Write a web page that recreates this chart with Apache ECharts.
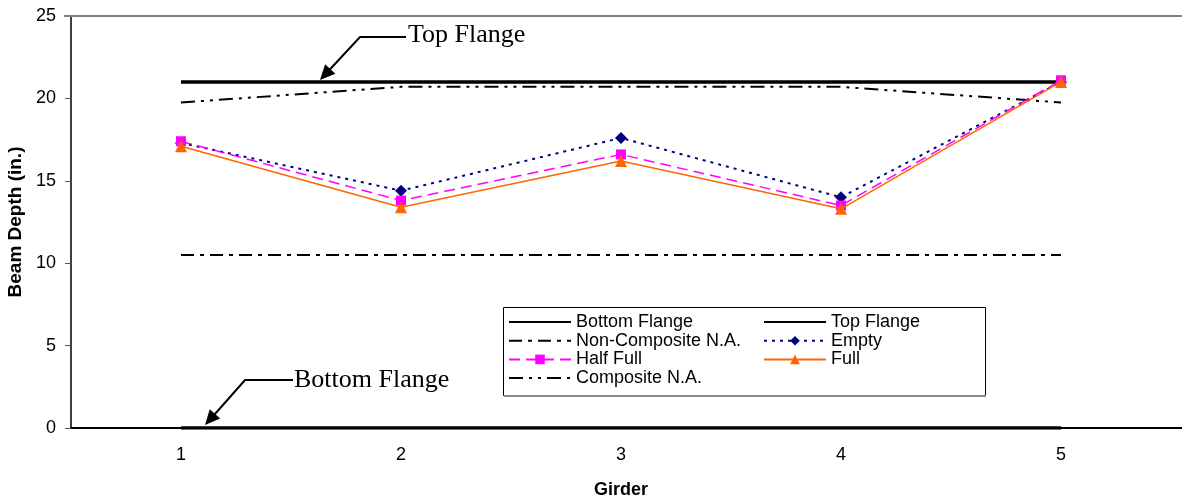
<!DOCTYPE html>
<html>
<head>
<meta charset="utf-8">
<script src="https://cdn.jsdelivr.net/npm/echarts@6/dist/echarts.min.js"></script>
<style>
html,body{margin:0;padding:0;background:#fff;}
#c{width:1182px;height:504px;}
</style>
</head>
<body>
<div id="c"></div>
<script>
var girders = ['1', '2', '3', '4', '5'];
var bottomFlange = [0, 0, 0, 0, 0];
var topFlange = [21, 21, 21, 21, 21];
var nonCompositeNA = [10.5, 10.5, 10.5, 10.5, 10.5];
var compositeNA = [19.75, 20.7, 20.7, 20.7, 19.75];
var emptyVals = [17.3, 14.4, 17.6, 14.0, 21.0];
var halfFullVals = [17.4, 13.8, 16.6, 13.5, 21.1];
var fullVals = [17.1, 13.4, 16.2, 13.3, 21.0];
var yTicks = [0, 5, 10, 15, 20, 25];

var FONT = '"Liberation Sans", Arial, sans-serif';
var SERIF = '"Liberation Serif", "Times New Roman", serif';

function arrowHead(x0, y0, x1, y1, len, hw) {
  var dx = x1 - x0, dy = y1 - y0, L = Math.sqrt(dx * dx + dy * dy);
  var ux = dx / L, uy = dy / L;
  var bx = x1 - ux * len, by = y1 - uy * len;
  var px = -uy, py = ux;
  return [[x1, y1], [bx + px * hw, by + py * hw], [bx - px * hw, by - py * hw]];
}

var chart = echarts.init(document.getElementById('c'));
var lineBase = { type: 'line', symbol: 'none', animation: false };
var legendText = { fontFamily: FONT, fontSize: 18, lineHeight: 18, color: '#000' };
function noMark(name) { return { name: name, itemStyle: { opacity: 0 } }; }

var option = {
  animation: false,
  grid: { left: 71, top: 16, width: 1100, height: 412, containLabel: false, outerBoundsMode: 'none' },
  xAxis: {
    type: 'category',
    data: girders,
    boundaryGap: true,
    name: 'Girder',
    nameLocation: 'middle',
    nameGap: 53,
    nameTextStyle: { fontFamily: FONT, fontWeight: 'bold', fontSize: 18, color: '#000' },
    axisLine: { lineStyle: { color: '#000', width: 2 } },
    axisTick: { show: false },
    axisLabel: { fontFamily: FONT, fontSize: 18, color: '#000', margin: 18 },
    splitLine: { show: false }
  },
  yAxis: {
    type: 'value',
    min: yTicks[0],
    max: yTicks[yTicks.length - 1],
    interval: 5,
    name: 'Beam Depth (in.)',
    nameLocation: 'middle',
    nameGap: 41,
    nameTextStyle: { fontFamily: FONT, fontWeight: 'bold', fontSize: 19, color: '#000' },
    axisLine: { show: true, lineStyle: { color: '#000', width: 1.5 } },
    axisTick: { show: true, length: 6, lineStyle: { color: '#555' } },
    axisLabel: { fontFamily: FONT, fontSize: 18, color: '#000', margin: 15 },
    splitLine: { show: false }
  },
  legend: [
    {
      orient: 'vertical', left: 508, top: 313, padding: 0,
      itemWidth: 62, itemHeight: 12, itemGap: 0.7,
      textStyle: legendText,
      data: [noMark('Bottom Flange'), noMark('Non-Composite N.A.'), 'Half Full', noMark('Composite N.A.')]
    },
    {
      orient: 'vertical', left: 763, top: 313, padding: 0,
      itemWidth: 62, itemHeight: 12, itemGap: 0.7,
      textStyle: legendText,
      data: [noMark('Top Flange'), 'Empty', 'Full']
    }
  ],
  series: [
    Object.assign({}, lineBase, { name: 'Bottom Flange', data: bottomFlange, z: 3,
      lineStyle: { color: '#000', width: 3.5 }, itemStyle: { color: '#000' } }),
    Object.assign({}, lineBase, { name: 'Top Flange', data: topFlange, z: 3,
      lineStyle: { color: '#000', width: 3.5 }, itemStyle: { color: '#000' } }),
    Object.assign({}, lineBase, { name: 'Non-Composite N.A.', data: nonCompositeNA,
      lineStyle: { color: '#000', width: 2, type: [13, 6, 4, 6] }, itemStyle: { color: '#000' } }),
    { type: 'line', name: 'Empty', data: emptyVals, symbol: 'diamond', symbolSize: 12, z: 4,
      lineStyle: { color: '#000080', width: 2, type: [3, 5] }, itemStyle: { color: '#000080' } },
    { type: 'line', name: 'Half Full', data: halfFullVals, symbol: 'rect', symbolSize: 10, z: 5,
      lineStyle: { color: '#FF00FF', width: 1.5, type: [11, 6] }, itemStyle: { color: '#FF00FF' } },
    { type: 'line', name: 'Full', data: fullVals, symbol: 'triangle', symbolSize: 12, z: 6,
      lineStyle: { color: '#FF6600', width: 1.5 }, itemStyle: { color: '#FF6600' } },
    Object.assign({}, lineBase, { name: 'Composite N.A.', data: compositeNA,
      lineStyle: { color: '#000', width: 2, type: [14, 6, 3, 6, 3, 6] }, itemStyle: { color: '#000' } })
  ],
  graphic: [
    { type: 'line', shape: { x1: 64, y1: 16, x2: 1182, y2: 16 }, style: { stroke: '#808080', lineWidth: 2 }, z: 1 },
    { type: 'line', shape: { x1: 1170, y1: 428, x2: 1182, y2: 428 }, style: { stroke: '#000', lineWidth: 2 }, z: 1 },
    { type: 'rect', shape: { x: 503.5, y: 307.5, width: 482, height: 88 },
      style: { fill: '#fff', stroke: '#000', lineWidth: 1 }, z: 0 },
    { type: 'line', shape: { x1: 504, y1: 396, x2: 986, y2: 396 }, style: { stroke: '#888', lineWidth: 2 }, z: 0 },
    { type: 'polyline', shape: { points: [[406, 37], [360, 37], [327, 72.5]] }, style: { stroke: '#000', lineWidth: 2, fill: null } },
    { type: 'polygon', shape: { points: arrowHead(360, 37, 320, 80, 15, 7) }, style: { fill: '#000' } },
    { type: 'text', left: 408, top: 22, style: { text: 'Top Flange', font: '26px ' + SERIF, fill: '#000' } },
    { type: 'polyline', shape: { points: [[293, 380], [245, 380], [211, 418.5]] }, style: { stroke: '#000', lineWidth: 2, fill: null } },
    { type: 'polygon', shape: { points: arrowHead(245, 380, 205, 425, 15, 7) }, style: { fill: '#000' } },
    { type: 'text', left: 294, top: 367, style: { text: 'Bottom Flange', font: '26px ' + SERIF, fill: '#000' } }
  ]
};
chart.setOption(option);
</script>
</body>
</html>
